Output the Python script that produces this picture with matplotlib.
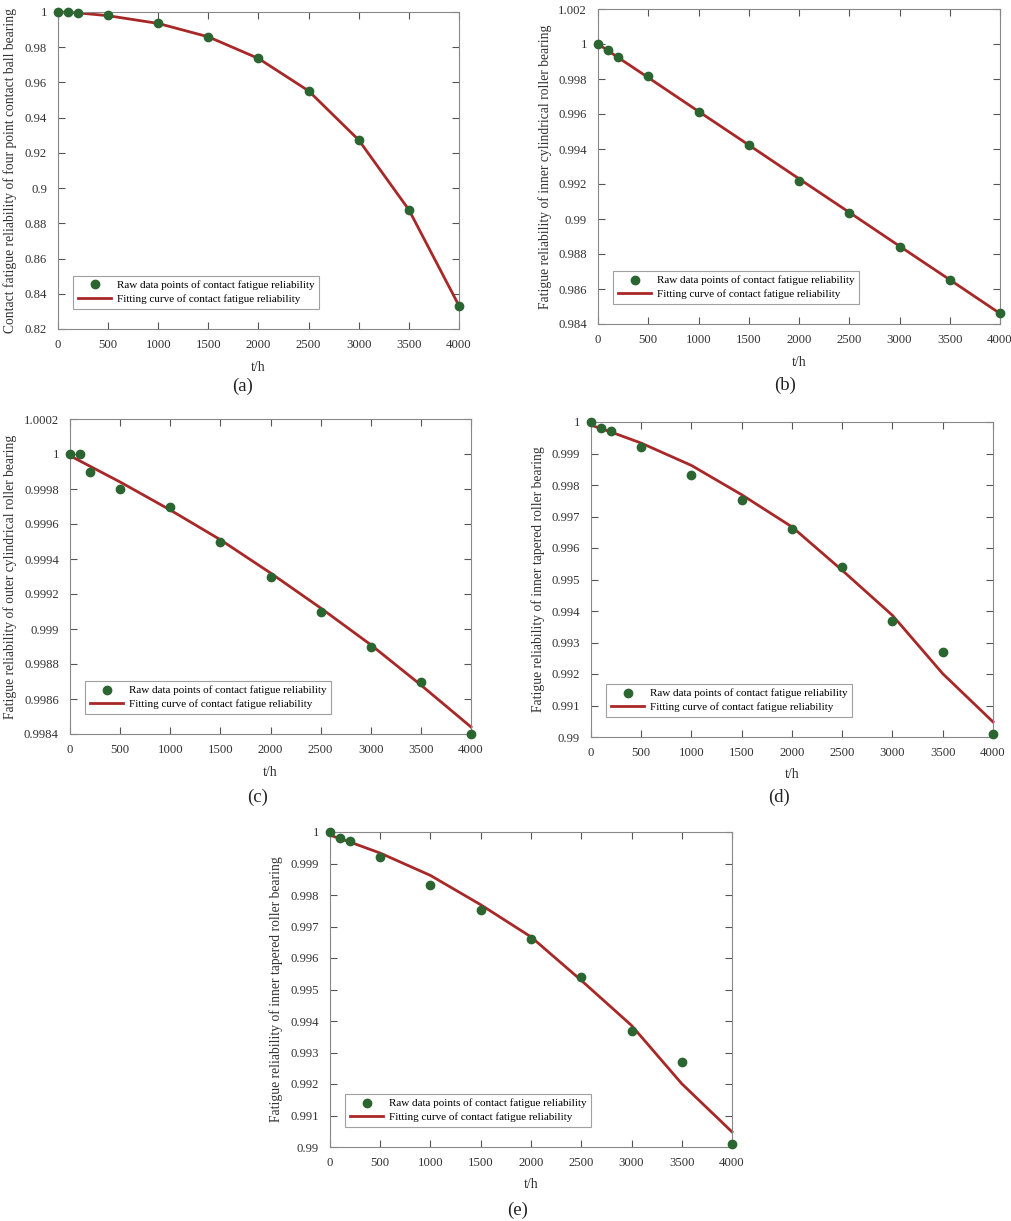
import matplotlib
matplotlib.use("Agg")
import matplotlib.pyplot as plt
from matplotlib.ticker import FuncFormatter

plt.rcParams['font.family'] = ['Liberation Serif', 'DejaVu Serif']

t = [0, 100, 200, 500, 1000, 1500, 2000, 2500, 3000, 3500, 4000]

# (a) four point contact ball bearing
raw_a = [1.0, 0.9999, 0.9996, 0.9981, 0.9936, 0.9860, 0.9737, 0.9553, 0.9274, 0.8876, 0.8331]
fit_a = [1.0, 0.9998, 0.9995, 0.9979, 0.9935, 0.9859, 0.9736, 0.9552, 0.9273, 0.8877, 0.8332]

# (b) inner cylindrical roller bearing
raw_b = [1.0, 0.99964, 0.99924, 0.99815, 0.99613, 0.99421, 0.99219, 0.99032, 0.98842, 0.98651, 0.98463]
fit_b = [1.0, 0.99962, 0.99923, 0.99808, 0.99615, 0.99423, 0.99230, 0.99038, 0.98845, 0.98653, 0.98460]

# (c) outer cylindrical roller bearing
raw_c = [1.0, 1.0, 0.9999, 0.9998, 0.9997, 0.9995, 0.9993, 0.9991, 0.9989, 0.9987, 0.9984]
fit_c = [0.99999, 0.99996, 0.99993, 0.99984, 0.99968, 0.99951, 0.99932, 0.99912, 0.99891, 0.99868, 0.99844]

# (d)/(e) inner tapered roller bearing
raw_d = [1.0, 0.99981, 0.99971, 0.99920, 0.99831, 0.99751, 0.99660, 0.99541, 0.99368, 0.99269, 0.99008]
fit_d = [0.99990, 0.99979, 0.99968, 0.99933, 0.99862, 0.99769, 0.99667, 0.99529, 0.99386, 0.99201, 0.99048]

ylabels = [
    'Contact fatigue reliability of four point contact ball bearing',
    'Fatigue reliability of inner cylindrical roller bearing',
    'Fatigue reliability of outer cylindrical roller bearing',
    'Fatigue reliability of inner tapered roller bearing',
    'Fatigue reliability of inner tapered roller bearing',
]
yticks = [
    [0.82, 0.84, 0.86, 0.88, 0.90, 0.92, 0.94, 0.96, 0.98, 1.0],
    [0.984, 0.986, 0.988, 0.990, 0.992, 0.994, 0.996, 0.998, 1.0, 1.002],
    [0.9984, 0.9986, 0.9988, 0.999, 0.9992, 0.9994, 0.9996, 0.9998, 1.0, 1.0002],
    [0.990, 0.991, 0.992, 0.993, 0.994, 0.995, 0.996, 0.997, 0.998, 0.999, 1.0],
    [0.990, 0.991, 0.992, 0.993, 0.994, 0.995, 0.996, 0.997, 0.998, 0.999, 1.0],
]
xticks = [0, 500, 1000, 1500, 2000, 2500, 3000, 3500, 4000]
panel_names = ['(a)', '(b)', '(c)', '(d)', '(e)']

W, H = 1012, 1221
fig = plt.figure(figsize=(W / 100, H / 100), dpi=100)

# axes boxes in pixels: left, top, right, bottom
boxes = [
    (58, 12, 459, 329),
    (598, 9, 1000, 324),
    (70, 419, 471, 734),
    (591, 422, 993, 737),
    (330, 832, 732, 1147),
]
ylab_x = [-0.102, -0.114, -0.132, -0.114, -0.117]
name_pos = [(243, 386), (785, 385), (258, 797), (779, 797), (518, 1210)]

raws = [raw_a, raw_b, raw_c, raw_d, raw_d]
fits = [fit_a, fit_b, fit_c, fit_d, fit_d]

fmt = FuncFormatter(lambda v, p: '%g' % round(v, 6))

for i in range(5):
    l, tp, r, b = boxes[i]
    ax = fig.add_axes([l / W, 1 - b / H, (r - l) / W, (b - tp) / H])
    ax.plot(t, fits[i], color='#a82828', lw=2.0, zorder=2, clip_on=False,
            label='Fitting curve of contact fatigue reliability')
    ax.plot(t, raws[i], 'o', color='#2b6530', ms=6, zorder=3, clip_on=False,
            label='Raw data points of contact fatigue reliability')
    ax.set_xlim(0, 4000)
    ax.set_ylim(yticks[i][0], yticks[i][-1])
    ax.set_xticks(xticks)
    ax.set_yticks(yticks[i])
    ax.yaxis.set_major_formatter(fmt)
    ax.tick_params(direction='in', top=True, right=True, length=5,
                   labelsize=9.2, colors='#555555', labelcolor='#333333', width=0.8)
    ax.tick_params(axis='x', pad=7)
    ax.tick_params(axis='y', pad=8)
    for s in ax.spines.values():
        s.set_color('#888888')
        s.set_linewidth(0.8)
    ax.set_ylabel(ylabels[i], fontsize=9.8, color='#333333')
    ax.yaxis.set_label_coords(ylab_x[i], 0.5)
    ax.set_xlabel('t/h', fontsize=10, color='#333333')
    ax.xaxis.set_label_coords(0.5, -0.1)

    handles, labs = ax.get_legend_handles_labels()
    leg = ax.legend(handles[::-1], labs[::-1], loc='lower left',
                    bbox_to_anchor=(0.037, 0.063), fontsize=8, frameon=True,
                    fancybox=False, borderpad=0.45, handlelength=3.0,
                    handletextpad=0.5, labelspacing=0.35, borderaxespad=0)
    leg.get_frame().set_edgecolor('#888888')
    leg.get_frame().set_linewidth(0.8)

    nx, ny = name_pos[i]
    fig.text(nx / W, 1 - ny / H, panel_names[i], fontsize=13.5,
             ha='center', va='center', color='#222222')

fig.savefig('out.png', dpi=100)
